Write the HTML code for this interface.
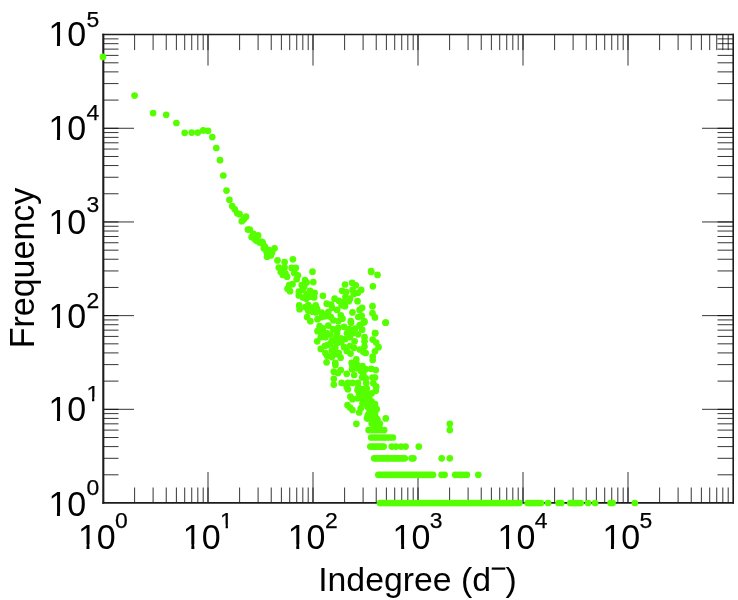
<!DOCTYPE html>
<html><head><meta charset="utf-8"><title>Indegree distribution</title>
<style>
html,body{margin:0;padding:0;background:#fff;}
body{width:738px;height:600px;overflow:hidden;font-family:"Liberation Sans",sans-serif;}
svg{display:block;will-change:transform;}
text{font-family:"Liberation Sans",sans-serif;fill:#000;}
.t{font-size:34px;}
.s{font-size:22.9px;stroke:#000;stroke-width:0.25px;}
.tk{stroke:#000;stroke-width:0.8;fill:none;}
.ax{stroke:#1c1c1c;stroke-width:2;fill:none;}
.p{fill:#55ff00;}
</style></head><body>
<svg width="738" height="600" viewBox="0 0 738 600">
<rect x="0" y="0" width="738" height="600" fill="#fff"/>
<path class="tk" d="M134.61 503.0v-15.5M134.61 34.6v15.5M153.10 503.0v-15.5M153.10 34.6v15.5M166.22 503.0v-15.5M166.22 34.6v15.5M176.39 503.0v-15.5M176.39 34.6v15.5M184.71 503.0v-15.5M184.71 34.6v15.5M191.74 503.0v-15.5M191.74 34.6v15.5M197.82 503.0v-15.5M197.82 34.6v15.5M203.20 503.0v-15.5M203.20 34.6v15.5M208.00 503.0v-15.5M208.00 34.6v15.5M208.00 503.0v-31M208.00 34.6v31M239.61 503.0v-15.5M239.61 34.6v15.5M258.10 503.0v-15.5M258.10 34.6v15.5M271.22 503.0v-15.5M271.22 34.6v15.5M281.39 503.0v-15.5M281.39 34.6v15.5M289.71 503.0v-15.5M289.71 34.6v15.5M296.74 503.0v-15.5M296.74 34.6v15.5M302.82 503.0v-15.5M302.82 34.6v15.5M308.20 503.0v-15.5M308.20 34.6v15.5M313.00 503.0v-15.5M313.00 34.6v15.5M313.00 503.0v-31M313.00 34.6v31M344.61 503.0v-15.5M344.61 34.6v15.5M363.10 503.0v-15.5M363.10 34.6v15.5M376.22 503.0v-15.5M376.22 34.6v15.5M386.39 503.0v-15.5M386.39 34.6v15.5M394.71 503.0v-15.5M394.71 34.6v15.5M401.74 503.0v-15.5M401.74 34.6v15.5M407.82 503.0v-15.5M407.82 34.6v15.5M413.20 503.0v-15.5M413.20 34.6v15.5M418.00 503.0v-15.5M418.00 34.6v15.5M418.00 503.0v-31M418.00 34.6v31M449.61 503.0v-15.5M449.61 34.6v15.5M468.10 503.0v-15.5M468.10 34.6v15.5M481.22 503.0v-15.5M481.22 34.6v15.5M491.39 503.0v-15.5M491.39 34.6v15.5M499.71 503.0v-15.5M499.71 34.6v15.5M506.74 503.0v-15.5M506.74 34.6v15.5M512.82 503.0v-15.5M512.82 34.6v15.5M518.20 503.0v-15.5M518.20 34.6v15.5M523.00 503.0v-15.5M523.00 34.6v15.5M523.00 503.0v-31M523.00 34.6v31M554.61 503.0v-15.5M554.61 34.6v15.5M573.10 503.0v-15.5M573.10 34.6v15.5M586.22 503.0v-15.5M586.22 34.6v15.5M596.39 503.0v-15.5M596.39 34.6v15.5M604.71 503.0v-15.5M604.71 34.6v15.5M611.74 503.0v-15.5M611.74 34.6v15.5M617.82 503.0v-15.5M617.82 34.6v15.5M623.20 503.0v-15.5M623.20 34.6v15.5M628.00 503.0v-15.5M628.00 34.6v15.5M628.00 503.0v-31M628.00 34.6v31M659.61 503.0v-15.5M659.61 34.6v15.5M678.10 503.0v-15.5M678.10 34.6v15.5M691.22 503.0v-15.5M691.22 34.6v15.5M701.39 503.0v-15.5M701.39 34.6v15.5M709.71 503.0v-15.5M709.71 34.6v15.5M716.74 503.0v-15.5M716.74 34.6v15.5M722.82 503.0v-15.5M722.82 34.6v15.5M728.20 503.0v-15.5M728.20 34.6v15.5M103.0 474.80h15.5M733.0 474.80h-15.5M103.0 458.30h15.5M733.0 458.30h-15.5M103.0 446.60h15.5M733.0 446.60h-15.5M103.0 437.52h15.5M733.0 437.52h-15.5M103.0 430.10h15.5M733.0 430.10h-15.5M103.0 423.83h15.5M733.0 423.83h-15.5M103.0 418.40h15.5M733.0 418.40h-15.5M103.0 413.61h15.5M733.0 413.61h-15.5M103.0 409.32h15.5M733.0 409.32h-15.5M103.0 409.32h31M733.0 409.32h-31M103.0 381.12h15.5M733.0 381.12h-15.5M103.0 364.62h15.5M733.0 364.62h-15.5M103.0 352.92h15.5M733.0 352.92h-15.5M103.0 343.84h15.5M733.0 343.84h-15.5M103.0 336.42h15.5M733.0 336.42h-15.5M103.0 330.15h15.5M733.0 330.15h-15.5M103.0 324.72h15.5M733.0 324.72h-15.5M103.0 319.93h15.5M733.0 319.93h-15.5M103.0 315.64h15.5M733.0 315.64h-15.5M103.0 315.64h31M733.0 315.64h-31M103.0 287.44h15.5M733.0 287.44h-15.5M103.0 270.94h15.5M733.0 270.94h-15.5M103.0 259.24h15.5M733.0 259.24h-15.5M103.0 250.16h15.5M733.0 250.16h-15.5M103.0 242.74h15.5M733.0 242.74h-15.5M103.0 236.47h15.5M733.0 236.47h-15.5M103.0 231.04h15.5M733.0 231.04h-15.5M103.0 226.25h15.5M733.0 226.25h-15.5M103.0 221.96h15.5M733.0 221.96h-15.5M103.0 221.96h31M733.0 221.96h-31M103.0 193.76h15.5M733.0 193.76h-15.5M103.0 177.26h15.5M733.0 177.26h-15.5M103.0 165.56h15.5M733.0 165.56h-15.5M103.0 156.48h15.5M733.0 156.48h-15.5M103.0 149.06h15.5M733.0 149.06h-15.5M103.0 142.79h15.5M733.0 142.79h-15.5M103.0 137.36h15.5M733.0 137.36h-15.5M103.0 132.57h15.5M733.0 132.57h-15.5M103.0 128.28h15.5M733.0 128.28h-15.5M103.0 128.28h31M733.0 128.28h-31M103.0 100.08h15.5M733.0 100.08h-15.5M103.0 83.58h15.5M733.0 83.58h-15.5M103.0 71.88h15.5M733.0 71.88h-15.5M103.0 62.80h15.5M733.0 62.80h-15.5M103.0 55.38h15.5M733.0 55.38h-15.5M103.0 49.11h15.5M733.0 49.11h-15.5M103.0 43.68h15.5M733.0 43.68h-15.5M103.0 38.89h15.5M733.0 38.89h-15.5"/>
<path class="ax" style="stroke-width:2.1" d="M103.3 33.7V503.8"/><path class="ax" style="stroke-width:1.8" d="M102.3 502.85H734"/><path class="ax" style="stroke-width:1.6" d="M102.3 34.55H734"/><path class="ax" style="stroke-width:1.6" d="M733.2 33.7V503.8"/>
<text class="t" transform="translate(48.40 516.20) scale(1 1.02)">10</text><rect x="50.06" y="511.71" width="6.89" height="5.39" fill="#fff"/><rect x="59.95" y="511.71" width="6.71" height="5.39" fill="#fff"/><text class="s" x="86.40" y="495.10">0</text>
<text class="t" transform="translate(48.40 421.20) scale(1 1.02)">10</text><rect x="50.06" y="416.71" width="6.89" height="5.39" fill="#fff"/><rect x="59.95" y="416.71" width="6.71" height="5.39" fill="#fff"/><text class="s" x="86.40" y="400.60">1</text><rect x="87.07" y="397.29" width="4.94" height="5.31" fill="#fff"/><rect x="94.33" y="397.29" width="4.96" height="5.31" fill="#fff"/>
<text class="t" transform="translate(48.40 328.20) scale(1 1.02)">10</text><rect x="50.06" y="323.71" width="6.89" height="5.39" fill="#fff"/><rect x="59.95" y="323.71" width="6.71" height="5.39" fill="#fff"/><text class="s" x="86.40" y="308.20">2</text>
<text class="t" transform="translate(48.40 233.70) scale(1 1.02)">10</text><rect x="50.06" y="229.21" width="6.89" height="5.39" fill="#fff"/><rect x="59.95" y="229.21" width="6.71" height="5.39" fill="#fff"/><text class="s" x="86.40" y="212.10">3</text>
<text class="t" transform="translate(48.40 140.30) scale(1 1.02)">10</text><rect x="50.06" y="135.81" width="6.89" height="5.39" fill="#fff"/><rect x="59.95" y="135.81" width="6.71" height="5.39" fill="#fff"/><text class="s" x="86.40" y="119.80">4</text>
<text class="t" transform="translate(48.40 45.90) scale(1 1.02)">10</text><rect x="50.06" y="41.41" width="6.89" height="5.39" fill="#fff"/><rect x="59.95" y="41.41" width="6.71" height="5.39" fill="#fff"/><text class="s" x="86.40" y="27.10">5</text>
<text class="t" transform="translate(77.90 548.70) scale(1 1.02)">10</text><rect x="79.56" y="544.21" width="6.89" height="5.39" fill="#fff"/><rect x="89.45" y="544.21" width="6.71" height="5.39" fill="#fff"/><text class="s" x="115.10" y="528.00">0</text>
<text class="t" transform="translate(182.80 548.70) scale(1 1.02)">10</text><rect x="184.46" y="544.21" width="6.89" height="5.39" fill="#fff"/><rect x="194.35" y="544.21" width="6.71" height="5.39" fill="#fff"/><text class="s" x="220.00" y="528.00">1</text><rect x="220.67" y="524.69" width="4.94" height="5.31" fill="#fff"/><rect x="227.93" y="524.69" width="4.96" height="5.31" fill="#fff"/>
<text class="t" transform="translate(287.70 548.70) scale(1 1.02)">10</text><rect x="289.36" y="544.21" width="6.89" height="5.39" fill="#fff"/><rect x="299.25" y="544.21" width="6.71" height="5.39" fill="#fff"/><text class="s" x="324.90" y="528.00">2</text>
<text class="t" transform="translate(392.60 548.70) scale(1 1.02)">10</text><rect x="394.26" y="544.21" width="6.89" height="5.39" fill="#fff"/><rect x="404.15" y="544.21" width="6.71" height="5.39" fill="#fff"/><text class="s" x="429.80" y="528.00">3</text>
<text class="t" transform="translate(497.50 548.70) scale(1 1.02)">10</text><rect x="499.16" y="544.21" width="6.89" height="5.39" fill="#fff"/><rect x="509.05" y="544.21" width="6.71" height="5.39" fill="#fff"/><text class="s" x="534.70" y="528.00">4</text>
<text class="t" transform="translate(602.40 548.70) scale(1 1.02)">10</text><rect x="604.06" y="544.21" width="6.89" height="5.39" fill="#fff"/><rect x="613.95" y="544.21" width="6.71" height="5.39" fill="#fff"/><text class="s" x="639.60" y="528.00">5</text>
<text class="t" style="font-size:33.8px" x="318.2" y="590.8">Indegree (d</text>
<rect x="491.7" y="567.5" width="13.6" height="2.2" fill="#000"/>
<text class="t" style="font-size:33.8px" x="505.6" y="590.8">)</text>
<text class="t" transform="translate(34 348.3) rotate(-90) scale(1 1.01)">Frequency</text>
<g class="p"><circle cx="103.0" cy="56.9" r="3.35"/><circle cx="134.6" cy="95.6" r="3.35"/><circle cx="153.1" cy="113.1" r="3.35"/><circle cx="166.2" cy="114.8" r="3.35"/><circle cx="176.4" cy="123.0" r="3.35"/><circle cx="184.7" cy="132.8" r="3.35"/><circle cx="191.7" cy="132.6" r="3.35"/><circle cx="197.8" cy="132.6" r="3.35"/><circle cx="203.2" cy="130.4" r="3.35"/><circle cx="208.0" cy="130.8" r="3.35"/><circle cx="212.3" cy="137.1" r="3.35"/><circle cx="216.3" cy="148.0" r="3.35"/><circle cx="220.0" cy="160.2" r="3.35"/><circle cx="223.3" cy="175.5" r="3.35"/><circle cx="226.5" cy="190.6" r="3.35"/><circle cx="229.4" cy="199.8" r="3.35"/><circle cx="232.2" cy="206.0" r="3.35"/><circle cx="234.8" cy="209.3" r="3.35"/><circle cx="237.3" cy="213.3" r="3.35"/><circle cx="239.6" cy="214.2" r="3.35"/><circle cx="241.8" cy="221.2" r="3.35"/><circle cx="243.9" cy="219.2" r="3.35"/><circle cx="246.0" cy="216.7" r="3.35"/><circle cx="247.9" cy="229.6" r="3.35"/><circle cx="249.8" cy="229.6" r="3.35"/><circle cx="251.6" cy="237.1" r="3.35"/><circle cx="253.3" cy="233.8" r="3.35"/><circle cx="254.9" cy="239.2" r="3.35"/><circle cx="256.6" cy="240.8" r="3.35"/><circle cx="258.1" cy="235.4" r="3.35"/><circle cx="259.6" cy="242.5" r="3.35"/><circle cx="261.0" cy="241.7" r="3.35"/><circle cx="262.4" cy="242.1" r="3.35"/><circle cx="263.8" cy="248.3" r="3.35"/><circle cx="262.9" cy="243.8" r="3.35"/><circle cx="363.5" cy="322.6" r="3.35"/><circle cx="359.7" cy="325.5" r="3.35"/><circle cx="371.1" cy="271.0" r="3.35"/><circle cx="385.8" cy="322.6" r="3.35"/><circle cx="375.3" cy="333.1" r="3.35"/><circle cx="264.8" cy="246.7" r="3.35"/><circle cx="351.1" cy="322.7" r="3.35"/><circle cx="364.5" cy="322.1" r="3.35"/><circle cx="385.5" cy="322.7" r="3.35"/><circle cx="328.3" cy="325.6" r="3.35"/><circle cx="326.6" cy="333.2" r="3.35"/><circle cx="333.0" cy="329.1" r="3.35"/><circle cx="338.3" cy="327.9" r="3.35"/><circle cx="344.1" cy="326.8" r="3.35"/><circle cx="349.3" cy="329.1" r="3.35"/><circle cx="355.2" cy="328.5" r="3.35"/><circle cx="359.8" cy="325.0" r="3.35"/><circle cx="362.2" cy="329.7" r="3.35"/><circle cx="337.1" cy="332.6" r="3.35"/><circle cx="347.0" cy="333.2" r="3.35"/><circle cx="352.8" cy="333.2" r="3.35"/><circle cx="358.1" cy="334.3" r="3.35"/><circle cx="375.0" cy="333.2" r="3.35"/><circle cx="320.8" cy="337.2" r="3.35"/><circle cx="317.2" cy="341.3" r="3.35"/><circle cx="325.4" cy="337.2" r="3.35"/><circle cx="331.8" cy="340.8" r="3.35"/><circle cx="336.5" cy="337.2" r="3.35"/><circle cx="340.6" cy="338.4" r="3.35"/><circle cx="345.3" cy="339.0" r="3.35"/><circle cx="349.9" cy="337.2" r="3.35"/><circle cx="354.6" cy="341.3" r="3.35"/><circle cx="364.5" cy="337.2" r="3.35"/><circle cx="364.5" cy="341.3" r="3.35"/><circle cx="372.7" cy="339.6" r="3.35"/><circle cx="376.2" cy="342.5" r="3.35"/><circle cx="320.8" cy="348.9" r="3.35"/><circle cx="324.8" cy="346.0" r="3.35"/><circle cx="330.1" cy="344.2" r="3.35"/><circle cx="325.4" cy="353.0" r="3.35"/><circle cx="331.8" cy="350.7" r="3.35"/><circle cx="335.3" cy="347.8" r="3.35"/><circle cx="344.1" cy="347.2" r="3.35"/><circle cx="349.9" cy="346.0" r="3.35"/><circle cx="354.0" cy="347.8" r="3.35"/><circle cx="359.8" cy="349.5" r="3.35"/><circle cx="364.5" cy="346.6" r="3.35"/><circle cx="363.3" cy="351.8" r="3.35"/><circle cx="350.5" cy="353.6" r="3.35"/><circle cx="338.8" cy="353.0" r="3.35"/><circle cx="340.6" cy="357.7" r="3.35"/><circle cx="335.9" cy="354.2" r="3.35"/><circle cx="378.5" cy="347.2" r="3.35"/><circle cx="375.0" cy="351.3" r="3.35"/><circle cx="365.7" cy="353.0" r="3.35"/><circle cx="326.6" cy="362.3" r="3.35"/><circle cx="335.3" cy="362.9" r="3.35"/><circle cx="372.7" cy="356.5" r="3.35"/><circle cx="372.7" cy="360.0" r="3.35"/><circle cx="356.3" cy="359.4" r="3.35"/><circle cx="351.7" cy="362.9" r="3.35"/><circle cx="355.2" cy="364.7" r="3.35"/><circle cx="367.0" cy="418.3" r="3.35"/><circle cx="371.7" cy="418.8" r="3.35"/><circle cx="376.3" cy="418.8" r="3.35"/><circle cx="371.7" cy="423.5" r="3.35"/><circle cx="376.3" cy="424.1" r="3.35"/><circle cx="379.8" cy="423.5" r="3.35"/><circle cx="372.2" cy="418.1" r="3.35"/><circle cx="377.5" cy="419.8" r="3.35"/><circle cx="374.0" cy="423.4" r="3.35"/><circle cx="379.3" cy="425.1" r="3.35"/><circle cx="367.8" cy="415.4" r="3.35"/><circle cx="354.6" cy="363.5" r="3.35"/><circle cx="266.7" cy="252.5" r="3.35"/><circle cx="265.4" cy="248.3" r="3.35"/><circle cx="269.2" cy="250.0" r="3.35"/><circle cx="274.6" cy="248.3" r="3.35"/><circle cx="272.1" cy="252.5" r="3.35"/><circle cx="267.1" cy="256.7" r="3.35"/><circle cx="270.8" cy="255.4" r="3.35"/><circle cx="277.5" cy="260.4" r="3.35"/><circle cx="284.6" cy="262.1" r="3.35"/><circle cx="292.9" cy="259.3" r="3.35"/><circle cx="278.8" cy="267.5" r="3.35"/><circle cx="280.8" cy="272.1" r="3.35"/><circle cx="284.6" cy="267.5" r="3.35"/><circle cx="285.4" cy="273.3" r="3.35"/><circle cx="287.1" cy="276.7" r="3.35"/><circle cx="282.9" cy="275.0" r="3.35"/><circle cx="291.7" cy="267.9" r="3.35"/><circle cx="295.8" cy="267.9" r="3.35"/><circle cx="294.2" cy="272.9" r="3.35"/><circle cx="297.9" cy="275.4" r="3.35"/><circle cx="296.7" cy="279.2" r="3.35"/><circle cx="312.5" cy="271.7" r="3.35"/><circle cx="313.3" cy="282.1" r="3.35"/><circle cx="305.0" cy="280.0" r="3.35"/><circle cx="306.7" cy="282.5" r="3.35"/><circle cx="301.7" cy="285.0" r="3.35"/><circle cx="304.2" cy="286.7" r="3.35"/><circle cx="289.2" cy="285.0" r="3.35"/><circle cx="292.5" cy="284.2" r="3.35"/><circle cx="290.0" cy="291.2" r="3.35"/><circle cx="287.5" cy="288.8" r="3.35"/><circle cx="298.8" cy="291.7" r="3.35"/><circle cx="302.5" cy="290.0" r="3.35"/><circle cx="298.8" cy="295.4" r="3.35"/><circle cx="302.9" cy="297.5" r="3.35"/><circle cx="306.7" cy="294.2" r="3.35"/><circle cx="310.0" cy="290.8" r="3.35"/><circle cx="310.8" cy="296.7" r="3.35"/><circle cx="314.6" cy="292.9" r="3.35"/><circle cx="314.2" cy="297.5" r="3.35"/><circle cx="306.2" cy="298.8" r="3.35"/><circle cx="322.9" cy="295.8" r="3.35"/><circle cx="299.2" cy="305.4" r="3.35"/><circle cx="299.6" cy="309.2" r="3.35"/><circle cx="305.4" cy="307.1" r="3.35"/><circle cx="308.3" cy="305.0" r="3.35"/><circle cx="308.3" cy="310.8" r="3.35"/><circle cx="312.1" cy="307.5" r="3.35"/><circle cx="315.8" cy="305.4" r="3.35"/><circle cx="317.1" cy="308.8" r="3.35"/><circle cx="312.5" cy="311.7" r="3.35"/><circle cx="315.8" cy="312.5" r="3.35"/><circle cx="321.7" cy="312.5" r="3.35"/><circle cx="324.2" cy="315.8" r="3.35"/><circle cx="321.7" cy="317.1" r="3.35"/><circle cx="317.5" cy="319.2" r="3.35"/><circle cx="307.1" cy="317.1" r="3.35"/><circle cx="310.4" cy="321.2" r="3.35"/><circle cx="319.6" cy="326.2" r="3.35"/><circle cx="317.5" cy="331.2" r="3.35"/><circle cx="322.9" cy="328.3" r="3.35"/><circle cx="321.7" cy="334.2" r="3.35"/><circle cx="371.2" cy="272.0" r="3.35"/><circle cx="377.5" cy="274.9" r="3.35"/><circle cx="372.9" cy="286.3" r="3.35"/><circle cx="345.0" cy="284.5" r="3.35"/><circle cx="352.1" cy="282.8" r="3.35"/><circle cx="355.8" cy="285.3" r="3.35"/><circle cx="361.2" cy="289.9" r="3.35"/><circle cx="342.1" cy="290.8" r="3.35"/><circle cx="346.2" cy="292.0" r="3.35"/><circle cx="352.5" cy="289.9" r="3.35"/><circle cx="353.8" cy="294.1" r="3.35"/><circle cx="357.9" cy="292.8" r="3.35"/><circle cx="345.4" cy="297.0" r="3.35"/><circle cx="350.0" cy="298.7" r="3.35"/><circle cx="334.6" cy="298.7" r="3.35"/><circle cx="338.8" cy="300.8" r="3.35"/><circle cx="343.3" cy="302.0" r="3.35"/><circle cx="348.8" cy="301.2" r="3.35"/><circle cx="357.5" cy="301.2" r="3.35"/><circle cx="345.0" cy="306.2" r="3.35"/><circle cx="341.7" cy="305.3" r="3.35"/><circle cx="326.7" cy="303.7" r="3.35"/><circle cx="331.2" cy="304.5" r="3.35"/><circle cx="332.1" cy="307.8" r="3.35"/><circle cx="337.1" cy="309.9" r="3.35"/><circle cx="328.3" cy="312.0" r="3.35"/><circle cx="330.8" cy="317.0" r="3.35"/><circle cx="325.8" cy="316.2" r="3.35"/><circle cx="340.8" cy="315.3" r="3.35"/><circle cx="342.5" cy="318.7" r="3.35"/><circle cx="333.3" cy="320.3" r="3.35"/><circle cx="338.3" cy="321.2" r="3.35"/><circle cx="352.5" cy="312.4" r="3.35"/><circle cx="362.1" cy="307.8" r="3.35"/><circle cx="359.6" cy="309.9" r="3.35"/><circle cx="358.3" cy="317.0" r="3.35"/><circle cx="361.7" cy="315.8" r="3.35"/><circle cx="372.5" cy="306.2" r="3.35"/><circle cx="372.5" cy="313.2" r="3.35"/><circle cx="375.0" cy="317.4" r="3.35"/><circle cx="350.8" cy="321.2" r="3.35"/><circle cx="364.2" cy="321.2" r="3.35"/><circle cx="330.5" cy="334.6" r="3.35"/><circle cx="336.8" cy="342.9" r="3.35"/><circle cx="341.3" cy="342.3" r="3.35"/><circle cx="327.6" cy="345.0" r="3.35"/><circle cx="346.8" cy="351.0" r="3.35"/><circle cx="327.2" cy="355.8" r="3.35"/><circle cx="331.8" cy="357.1" r="3.35"/><circle cx="336.3" cy="339.2" r="3.35"/><circle cx="333.0" cy="340.8" r="3.35"/><circle cx="335.4" cy="365.0" r="3.35"/><circle cx="352.5" cy="365.8" r="3.35"/><circle cx="357.5" cy="365.0" r="3.35"/><circle cx="362.5" cy="366.2" r="3.35"/><circle cx="333.8" cy="371.7" r="3.35"/><circle cx="340.8" cy="370.0" r="3.35"/><circle cx="337.9" cy="372.9" r="3.35"/><circle cx="346.7" cy="373.8" r="3.35"/><circle cx="354.2" cy="375.0" r="3.35"/><circle cx="352.1" cy="369.2" r="3.35"/><circle cx="356.7" cy="368.3" r="3.35"/><circle cx="360.8" cy="370.8" r="3.35"/><circle cx="363.3" cy="374.2" r="3.35"/><circle cx="365.8" cy="369.2" r="3.35"/><circle cx="371.2" cy="368.8" r="3.35"/><circle cx="375.8" cy="370.0" r="3.35"/><circle cx="375.0" cy="377.5" r="3.35"/><circle cx="372.5" cy="377.5" r="3.35"/><circle cx="365.8" cy="378.3" r="3.35"/><circle cx="362.1" cy="377.5" r="3.35"/><circle cx="333.8" cy="378.8" r="3.35"/><circle cx="333.8" cy="384.6" r="3.35"/><circle cx="341.7" cy="382.9" r="3.35"/><circle cx="347.9" cy="382.9" r="3.35"/><circle cx="352.5" cy="382.9" r="3.35"/><circle cx="357.9" cy="382.9" r="3.35"/><circle cx="347.9" cy="389.2" r="3.35"/><circle cx="346.7" cy="386.7" r="3.35"/><circle cx="366.2" cy="382.9" r="3.35"/><circle cx="373.3" cy="383.3" r="3.35"/><circle cx="376.2" cy="386.7" r="3.35"/><circle cx="375.8" cy="390.8" r="3.35"/><circle cx="366.7" cy="388.3" r="3.35"/><circle cx="362.5" cy="389.2" r="3.35"/><circle cx="358.3" cy="387.5" r="3.35"/><circle cx="363.3" cy="393.3" r="3.35"/><circle cx="367.5" cy="394.2" r="3.35"/><circle cx="371.7" cy="393.3" r="3.35"/><circle cx="359.2" cy="393.3" r="3.35"/><circle cx="357.5" cy="390.0" r="3.35"/><circle cx="350.4" cy="396.7" r="3.35"/><circle cx="352.5" cy="399.2" r="3.35"/><circle cx="357.5" cy="398.3" r="3.35"/><circle cx="361.7" cy="398.3" r="3.35"/><circle cx="365.8" cy="399.2" r="3.35"/><circle cx="369.2" cy="397.5" r="3.35"/><circle cx="347.5" cy="405.0" r="3.35"/><circle cx="352.5" cy="410.0" r="3.35"/><circle cx="350.0" cy="407.5" r="3.35"/><circle cx="362.5" cy="403.3" r="3.35"/><circle cx="366.7" cy="402.5" r="3.35"/><circle cx="371.7" cy="401.7" r="3.35"/><circle cx="375.0" cy="404.2" r="3.35"/><circle cx="360.8" cy="408.3" r="3.35"/><circle cx="359.2" cy="412.5" r="3.35"/><circle cx="367.5" cy="406.7" r="3.35"/><circle cx="371.7" cy="408.3" r="3.35"/><circle cx="376.7" cy="409.2" r="3.35"/><circle cx="369.2" cy="412.5" r="3.35"/><circle cx="375.0" cy="413.3" r="3.35"/><circle cx="380.0" cy="503.0" r="3.35"/><circle cx="382.2" cy="503.0" r="3.35"/><circle cx="384.4" cy="503.0" r="3.35"/><circle cx="386.6" cy="503.0" r="3.35"/><circle cx="388.9" cy="503.0" r="3.35"/><circle cx="391.1" cy="503.0" r="3.35"/><circle cx="393.3" cy="503.0" r="3.35"/><circle cx="395.5" cy="503.0" r="3.35"/><circle cx="397.7" cy="503.0" r="3.35"/><circle cx="399.9" cy="503.0" r="3.35"/><circle cx="402.1" cy="503.0" r="3.35"/><circle cx="404.3" cy="503.0" r="3.35"/><circle cx="406.6" cy="503.0" r="3.35"/><circle cx="408.8" cy="503.0" r="3.35"/><circle cx="411.0" cy="503.0" r="3.35"/><circle cx="413.2" cy="503.0" r="3.35"/><circle cx="415.4" cy="503.0" r="3.35"/><circle cx="417.6" cy="503.0" r="3.35"/><circle cx="419.8" cy="503.0" r="3.35"/><circle cx="422.0" cy="503.0" r="3.35"/><circle cx="424.2" cy="503.0" r="3.35"/><circle cx="426.5" cy="503.0" r="3.35"/><circle cx="428.7" cy="503.0" r="3.35"/><circle cx="430.9" cy="503.0" r="3.35"/><circle cx="433.1" cy="503.0" r="3.35"/><circle cx="435.3" cy="503.0" r="3.35"/><circle cx="437.5" cy="503.0" r="3.35"/><circle cx="439.7" cy="503.0" r="3.35"/><circle cx="442.0" cy="503.0" r="3.35"/><circle cx="444.2" cy="503.0" r="3.35"/><circle cx="446.4" cy="503.0" r="3.35"/><circle cx="448.6" cy="503.0" r="3.35"/><circle cx="450.8" cy="503.0" r="3.35"/><circle cx="453.0" cy="503.0" r="3.35"/><circle cx="455.2" cy="503.0" r="3.35"/><circle cx="457.4" cy="503.0" r="3.35"/><circle cx="459.7" cy="503.0" r="3.35"/><circle cx="461.9" cy="503.0" r="3.35"/><circle cx="464.1" cy="503.0" r="3.35"/><circle cx="466.3" cy="503.0" r="3.35"/><circle cx="468.5" cy="503.0" r="3.35"/><circle cx="470.7" cy="503.0" r="3.35"/><circle cx="472.9" cy="503.0" r="3.35"/><circle cx="475.1" cy="503.0" r="3.35"/><circle cx="477.4" cy="503.0" r="3.35"/><circle cx="479.6" cy="503.0" r="3.35"/><circle cx="481.8" cy="503.0" r="3.35"/><circle cx="484.0" cy="503.0" r="3.35"/><circle cx="486.2" cy="503.0" r="3.35"/><circle cx="488.4" cy="503.0" r="3.35"/><circle cx="490.6" cy="503.0" r="3.35"/><circle cx="492.9" cy="503.0" r="3.35"/><circle cx="495.1" cy="503.0" r="3.35"/><circle cx="497.3" cy="503.0" r="3.35"/><circle cx="499.5" cy="503.0" r="3.35"/><circle cx="501.7" cy="503.0" r="3.35"/><circle cx="503.9" cy="503.0" r="3.35"/><circle cx="506.1" cy="503.0" r="3.35"/><circle cx="508.3" cy="503.0" r="3.35"/><circle cx="510.6" cy="503.0" r="3.35"/><circle cx="512.8" cy="503.0" r="3.35"/><circle cx="515.0" cy="503.0" r="3.35"/><circle cx="517.2" cy="503.0" r="3.35"/><circle cx="519.4" cy="503.0" r="3.35"/><circle cx="527.7" cy="503.0" r="3.35"/><circle cx="529.9" cy="503.0" r="3.35"/><circle cx="532.1" cy="503.0" r="3.35"/><circle cx="534.4" cy="503.0" r="3.35"/><circle cx="536.6" cy="503.0" r="3.35"/><circle cx="538.8" cy="503.0" r="3.35"/><circle cx="541.0" cy="503.0" r="3.35"/><circle cx="548.1" cy="503.0" r="3.35"/><circle cx="558.6" cy="503.0" r="3.35"/><circle cx="561.2" cy="503.0" r="3.35"/><circle cx="588.1" cy="503.0" r="3.35"/><circle cx="595.1" cy="503.0" r="3.35"/><circle cx="610.6" cy="503.0" r="3.35"/><circle cx="612.6" cy="503.0" r="3.35"/><circle cx="634.8" cy="503.0" r="3.35"/><circle cx="570.3" cy="503.0" r="3.35"/><circle cx="572.4" cy="503.0" r="3.35"/><circle cx="574.5" cy="503.0" r="3.35"/><circle cx="576.5" cy="503.0" r="3.35"/><circle cx="578.6" cy="503.0" r="3.35"/><circle cx="580.7" cy="503.0" r="3.35"/><circle cx="378.3" cy="474.8" r="3.35"/><circle cx="380.5" cy="474.8" r="3.35"/><circle cx="382.7" cy="474.8" r="3.35"/><circle cx="384.9" cy="474.8" r="3.35"/><circle cx="387.1" cy="474.8" r="3.35"/><circle cx="389.2" cy="474.8" r="3.35"/><circle cx="391.4" cy="474.8" r="3.35"/><circle cx="393.6" cy="474.8" r="3.35"/><circle cx="395.8" cy="474.8" r="3.35"/><circle cx="398.0" cy="474.8" r="3.35"/><circle cx="400.2" cy="474.8" r="3.35"/><circle cx="402.4" cy="474.8" r="3.35"/><circle cx="404.6" cy="474.8" r="3.35"/><circle cx="406.7" cy="474.8" r="3.35"/><circle cx="408.9" cy="474.8" r="3.35"/><circle cx="411.1" cy="474.8" r="3.35"/><circle cx="413.3" cy="474.8" r="3.35"/><circle cx="415.5" cy="474.8" r="3.35"/><circle cx="417.7" cy="474.8" r="3.35"/><circle cx="419.9" cy="474.8" r="3.35"/><circle cx="422.1" cy="474.8" r="3.35"/><circle cx="424.2" cy="474.8" r="3.35"/><circle cx="426.4" cy="474.8" r="3.35"/><circle cx="428.6" cy="474.8" r="3.35"/><circle cx="430.8" cy="474.8" r="3.35"/><circle cx="433.0" cy="474.8" r="3.35"/><circle cx="441.6" cy="474.8" r="3.35"/><circle cx="444.6" cy="474.8" r="3.35"/><circle cx="455.2" cy="474.8" r="3.35"/><circle cx="458.1" cy="474.8" r="3.35"/><circle cx="461.0" cy="474.8" r="3.35"/><circle cx="464.0" cy="474.8" r="3.35"/><circle cx="466.9" cy="474.8" r="3.35"/><circle cx="478.3" cy="474.8" r="3.35"/><circle cx="374.2" cy="458.3" r="3.35"/><circle cx="376.4" cy="458.3" r="3.35"/><circle cx="378.6" cy="458.3" r="3.35"/><circle cx="380.8" cy="458.3" r="3.35"/><circle cx="382.9" cy="458.3" r="3.35"/><circle cx="385.1" cy="458.3" r="3.35"/><circle cx="387.3" cy="458.3" r="3.35"/><circle cx="389.5" cy="458.3" r="3.35"/><circle cx="391.7" cy="458.3" r="3.35"/><circle cx="393.9" cy="458.3" r="3.35"/><circle cx="396.1" cy="458.3" r="3.35"/><circle cx="398.2" cy="458.3" r="3.35"/><circle cx="400.4" cy="458.3" r="3.35"/><circle cx="402.6" cy="458.3" r="3.35"/><circle cx="404.8" cy="458.3" r="3.35"/><circle cx="411.6" cy="458.3" r="3.35"/><circle cx="413.4" cy="458.3" r="3.35"/><circle cx="441.7" cy="458.3" r="3.35"/><circle cx="449.8" cy="458.3" r="3.35"/><circle cx="370.3" cy="446.6" r="3.35"/><circle cx="372.5" cy="446.6" r="3.35"/><circle cx="374.8" cy="446.6" r="3.35"/><circle cx="377.0" cy="446.6" r="3.35"/><circle cx="379.2" cy="446.6" r="3.35"/><circle cx="381.5" cy="446.6" r="3.35"/><circle cx="383.7" cy="446.6" r="3.35"/><circle cx="391.8" cy="446.6" r="3.35"/><circle cx="396.0" cy="446.6" r="3.35"/><circle cx="401.0" cy="446.6" r="3.35"/><circle cx="405.6" cy="446.6" r="3.35"/><circle cx="418.8" cy="446.6" r="3.35"/><circle cx="371.2" cy="437.5" r="3.35"/><circle cx="374.3" cy="437.5" r="3.35"/><circle cx="377.4" cy="437.5" r="3.35"/><circle cx="380.5" cy="437.5" r="3.35"/><circle cx="383.6" cy="437.5" r="3.35"/><circle cx="386.7" cy="437.5" r="3.35"/><circle cx="389.8" cy="437.5" r="3.35"/><circle cx="392.9" cy="437.5" r="3.35"/><circle cx="368.6" cy="430.1" r="3.35"/><circle cx="371.7" cy="430.1" r="3.35"/><circle cx="374.8" cy="430.1" r="3.35"/><circle cx="378.0" cy="430.1" r="3.35"/><circle cx="381.1" cy="430.1" r="3.35"/><circle cx="384.2" cy="430.1" r="3.35"/><circle cx="449.8" cy="430.1" r="3.35"/><circle cx="373.0" cy="423.8" r="3.35"/><circle cx="375.7" cy="423.8" r="3.35"/><circle cx="378.4" cy="423.8" r="3.35"/><circle cx="356.4" cy="423.8" r="3.35"/><circle cx="449.8" cy="423.8" r="3.35"/><circle cx="368.5" cy="418.4" r="3.35"/><circle cx="371.5" cy="418.4" r="3.35"/><circle cx="374.5" cy="418.4" r="3.35"/><circle cx="376.5" cy="418.4" r="3.35"/><circle cx="385.8" cy="418.4" r="3.35"/></g>
</svg></body></html>
